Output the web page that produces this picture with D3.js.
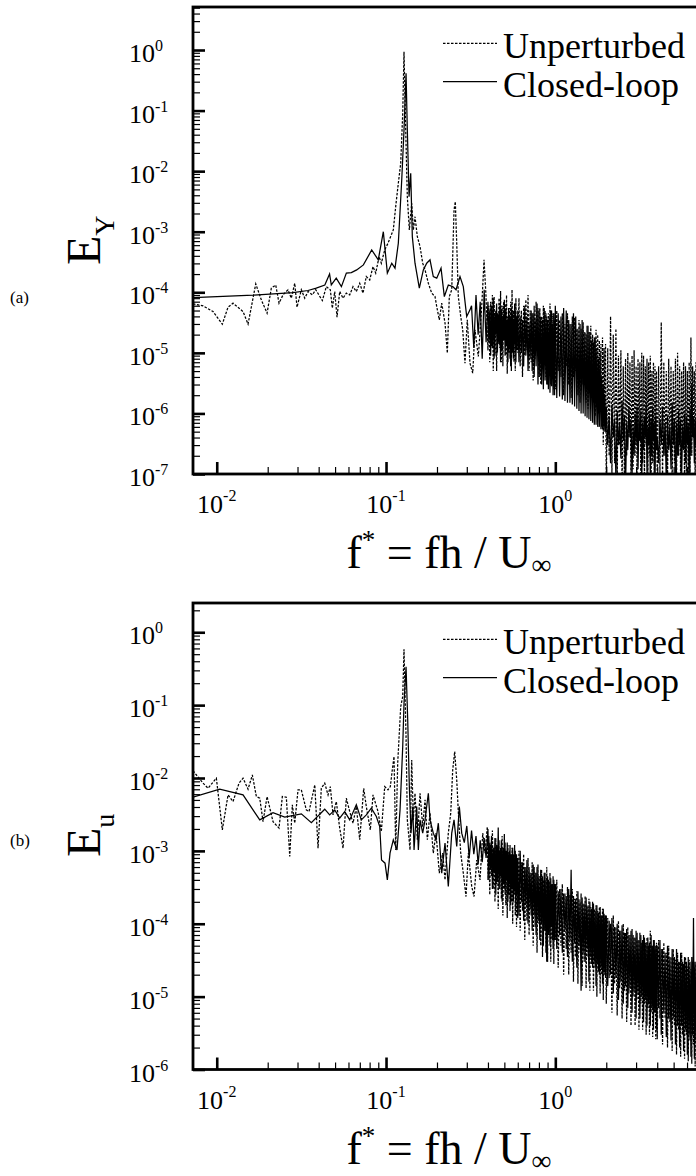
<!DOCTYPE html>
<html>
<head>
<meta charset="utf-8">
<script src="https://cdn.jsdelivr.net/npm/d3@7/dist/d3.min.js"></script>
<style>
  body { margin: 0; background: #fff; }
  svg text { font-family: "Liberation Serif", "DejaVu Serif", serif; fill: #000; }
</style>
</head>
<body>
<svg id="chart" width="696" height="1176" font-family="Liberation Serif, DejaVu Serif, serif"></svg>
<script>
// ---- data ----
// low frequency part of each spectrum: [f*, E]
var eyUnperturbedLow = [[0.00724,6.44e-5],[0.0083,5.97e-5],[0.00951,4.81e-5],[0.01079,2.98e-5],[0.01166,5.68e-5],[0.01248,6.61e-5],[0.0143,4.81e-5],[0.01531,2.98e-5],[0.017,1.38e-4],[0.01834,7.5e-5],[0.01983,4.52e-5],[0.02101,1.17e-4],[0.02231,1.32e-4],[0.02333,6.61e-5],[0.02463,9.06e-5],[0.02636,1.10e-4],[0.02757,8.0e-5],[0.02889,1.41e-4],[0.0298,5.68e-5],[0.0316,1.10e-4],[0.0331,8.0e-5],[0.03462,1.03e-4],[0.0367,9.06e-5],[0.03844,1.10e-4],[0.04205,7.3e-5],[0.0444,1.24e-4],[0.04688,1.10e-4],[0.04817,5.47e-5],[0.04977,1.03e-4],[0.05135,3.88e-5],[0.05326,1.03e-4],[0.05572,8.0e-5],[0.05827,9.67e-5],[0.06103,9.06e-5],[0.06383,1.24e-4],[0.06676,1.03e-4],[0.06992,1.41e-4],[0.07311,9.67e-5],[0.07647,1.82e-4],[0.0801,1.6e-4],[0.08377,2.66e-4],[0.08692,2.07e-4],[0.09094,3.88e-4],[0.0938,3.02e-4],[0.09824,5.0e-4],[0.1027,6.46e-4],[0.1104,1.07e-3],[0.1146,2.95e-3],[0.1182,6.31e-3],[0.1221,1.35e-2],[0.1255,9.02e-2],[0.1277,0.937],[0.13,9.02e-2],[0.1336,3.79e-3],[0.1373,1.07e-3],[0.1418,2.95e-3],[0.145,1.07e-3],[0.1483,1.77e-3],[0.1531,8.3e-4],[0.1588,5.68e-4],[0.1647,3.02e-4],[0.17,2.34e-4],[0.1778,1.41e-4],[0.1862,9.67e-5],[0.1947,8.5e-5],[0.1993,5.81e-5],[0.2064,3.51e-5],[0.2133,6.61e-5],[0.2231,3.09e-5],[0.2302,9.9e-6],[0.2365,8.5e-5],[0.2444,1.1e-4],[0.2522,2.29e-3],[0.2566,3.14e-3],[0.2616,6.46e-4],[0.2673,8.5e-5],[0.2762,3.97e-5],[0.2838,2.4e-5],[0.2927,6.76e-6],[0.302,3.51e-5],[0.3133,6.76e-6],[0.3251,4.62e-6],[0.3355,2.4e-5],[0.3509,8.7e-6],[0.3675,5.81e-5],[0.3793,3.43e-4],[0.3897,8.5e-5]];

var eyClosedLow = [[0.00724,8.2e-5],[0.0164,9.0e-5],[0.0282,9.9e-5],[0.0346,1.07e-4],[0.0387,1.17e-4],[0.0435,1.32e-4],[0.0464,2.01e-4],[0.0475,1.32e-4],[0.0508,1.71e-4],[0.0545,1.24e-4],[0.0583,2.07e-4],[0.0624,2.11e-4],[0.0671,2.34e-4],[0.0735,2.83e-4],[0.0823,5.0e-4],[0.09,3.43e-4],[0.0964,1.0e-3],[0.1018,2.07e-4],[0.1081,3.02e-4],[0.113,2.5e-4],[0.1182,6.46e-4],[0.1238,7.16e-3],[0.1277,4.79e-2],[0.1313,0.412],[0.1336,4.79e-2],[0.1368,3.79e-3],[0.1399,9.23e-3],[0.143,8.3e-4],[0.1483,3.02e-4],[0.1573,1.17e-4],[0.1661,2.34e-4],[0.1739,3.02e-4],[0.1819,3.43e-4],[0.1902,1.82e-4],[0.1993,1.71e-4],[0.2113,2.5e-4],[0.221,8.5e-5],[0.2333,1.32e-4],[0.2477,1.24e-4],[0.2592,1.1e-4],[0.2735,1.82e-4],[0.2861,1.24e-4],[0.2996,3.97e-5],[0.3133,5.13e-5],[0.32,6e-5],[0.33,1.2e-5],[0.34,9e-5],[0.35,2e-5],[0.36,7e-5],[0.37,8e-6],[0.38,1.1e-4],[0.39,1.5e-5]];

var euUnperturbedLow = [[0.00724,1.26e-2],[0.0083,8.5e-3],[0.00888,7.24e-3],[0.00995,9.94e-3],[0.01079,1.94e-3],[0.01166,5.86e-3],[0.01248,4.75e-3],[0.01354,8.5e-3],[0.0143,9.94e-3],[0.01531,7.02e-3],[0.01623,1.1e-2],[0.01714,5.56e-3],[0.01795,5.28e-3],[0.01877,2.52e-3],[0.01983,5.56e-3],[0.0215,2.52e-3],[0.02333,2.05e-3],[0.0244,5.56e-3],[0.02577,5.45e-3],[0.02699,8.4e-4],[0.02796,4.28e-3],[0.02889,2.4e-3],[0.03021,6.87e-3],[0.0316,6.87e-3],[0.03381,3.65e-3],[0.03509,3.46e-3],[0.03794,8.04e-3],[0.03966,1.09e-3],[0.04147,7.24e-3],[0.04344,8.5e-3],[0.04544,5.86e-3],[0.04688,7.62e-3],[0.04864,3.12e-3],[0.05085,4.75e-3],[0.05326,2.05e-3],[0.05572,1.09e-3],[0.05827,5.28e-3],[0.06103,3.46e-3],[0.06383,2.4e-3],[0.06676,4.05e-3],[0.06992,1.42e-3],[0.07382,7.24e-3],[0.07647,4.05e-3],[0.08077,1.94e-3],[0.08377,5.86e-3],[0.08967,3.46e-3],[0.0938,1.84e-3],[0.09824,7.62e-3],[0.1027,6.87e-3],[0.106,7.62e-3],[0.1089,1.29e-2],[0.1115,1.97e-2],[0.1141,1.03e-3],[0.1172,1.6e-2],[0.1221,9.5e-2],[0.1255,0.131],[0.1277,0.585],[0.1313,3.7e-2],[0.1336,2.66e-3],[0.1386,1.03e-3],[0.1418,1.77e-2],[0.145,2.66e-3],[0.1483,6.18e-3],[0.1531,1.42e-3],[0.1588,6.18e-3],[0.1647,2.15e-3],[0.17,5.01e-3],[0.1754,1.42e-3],[0.1819,3.29e-3],[0.1902,9.3e-4],[0.1974,1.75e-3],[0.2064,4.94e-4],[0.2162,9.3e-4],[0.2231,4.0e-4],[0.2333,1.75e-3],[0.2411,3.29e-3],[0.2477,1.29e-2],[0.2545,2.3e-2],[0.2616,9.4e-3],[0.2688,2.66e-3],[0.2762,9.3e-4],[0.2861,4.94e-4],[0.2968,2.36e-4],[0.3063,9.3e-4],[0.3208,3.24e-4],[0.3311,2.36e-4],[0.3434,7.5e-4],[0.3592,4.0e-4],[0.3726,1.75e-3],[0.3844,9.3e-4],[0.3965,2.15e-3]];

var euClosedLow = [[0.00724,5.45e-3],[0.01041,7.02e-3],[0.0143,5.86e-3],[0.01795,2.66e-3],[0.0215,3.35e-3],[0.02522,2.9e-3],[0.0316,3.22e-3],[0.03622,2.44e-3],[0.04344,3.73e-3],[0.04645,3.12e-3],[0.04977,3.65e-3],[0.05326,2.81e-3],[0.05702,3.46e-3],[0.06103,2.66e-3],[0.06676,4.28e-3],[0.07146,2.66e-3],[0.07647,3.12e-3],[0.08186,3.85e-3],[0.08765,2.96e-3],[0.0918,2.15e-3],[0.09406,7.5e-4],[0.09865,6.78e-4],[0.1018,4.0e-4],[0.1056,9.3e-4],[0.1104,1.42e-3],[0.1161,1.03e-3],[0.121,3.65e-3],[0.1255,2.7e-2],[0.1277,0.106],[0.1313,0.337],[0.1343,6.27e-2],[0.1373,7.62e-3],[0.1405,1.75e-3],[0.1438,4.05e-3],[0.1464,1.03e-3],[0.1518,4.05e-3],[0.1552,1.03e-3],[0.1588,2.66e-3],[0.1647,1.75e-3],[0.17,2.66e-3],[0.1778,6.18e-3],[0.1819,2.66e-3],[0.1902,1.75e-3],[0.1974,1.42e-3],[0.2037,2.4e-3],[0.2133,4.94e-4],[0.2231,1.28e-3],[0.2333,3.24e-4],[0.2444,1.75e-3],[0.2522,2.66e-3],[0.2616,1.15e-3],[0.271,4.05e-3],[0.28,1.75e-3],[0.29,1.3e-3],[0.30,2.2e-3],[0.31,8e-4],[0.32,1.9e-3],[0.33,9e-4],[0.34,1.6e-3],[0.35,6.5e-4],[0.36,1.4e-3],[0.37,7e-4],[0.38,1.5e-3],[0.39,8e-4]];

// high frequency part: shared sample frequencies, one value per frequency
var freqHigh = [0.400,0.405,0.410,0.415,0.420,0.425,0.430,0.435,0.440,0.445,0.450,0.455,0.460,0.465,0.470,0.475,0.480,0.485,0.490,0.495,0.500,0.505,0.510,0.515,0.520,0.525,0.530,0.535,0.540,0.545,0.550,0.555,0.560,0.565,0.570,0.575,0.580,0.585,0.590,0.595,
  0.60,0.61,0.62,0.63,0.64,0.65,0.66,0.67,0.68,0.69,0.70,0.71,0.72,0.73,0.74,0.75,0.76,0.77,0.78,0.79,0.80,0.81,0.82,0.83,0.84,0.85,0.86,0.87,0.88,0.89,0.90,0.91,0.92,0.93,0.94,0.95,0.96,0.97,0.98,0.99,
  1.00,1.02,1.04,1.06,1.08,1.10,1.12,1.14,1.16,1.18,1.20,1.22,1.24,1.26,1.28,1.30,1.32,1.34,1.36,1.38,1.40,1.42,1.44,1.46,1.48,1.50,1.52,1.54,1.56,1.58,1.60,1.62,1.64,1.66,1.68,1.70,1.72,1.74,1.76,1.78,1.80,1.82,1.84,1.86,1.88,1.90,1.92,1.94,1.96,1.98,
  2.00,2.04,2.08,2.12,2.16,2.20,2.24,2.28,2.32,2.36,2.40,2.44,2.48,2.52,2.56,2.60,2.64,2.68,2.72,2.76,2.80,2.84,2.88,2.92,2.96,3.00,3.04,3.08,3.12,3.16,3.20,3.24,3.28,3.32,3.36,3.40,3.44,3.48,3.52,3.56,3.60,3.64,3.68,3.72,3.76,3.80,3.84,3.88,3.92,3.96,
  4.000,4.075,4.150,4.225,4.300,4.375,4.450,4.525,4.600,4.675,4.750,4.825,4.900,4.975,5.050,5.125,5.200,5.275,5.350,5.425,5.500,5.575,5.650,5.725,5.800,5.875,5.950,6.025,6.100,6.175,6.250,6.325,6.400,6.475,6.550,6.625,6.700,6.775,6.850,6.925];

var eyUnperturbedHigh = [1.1e-5,6e-5,7e-6,7e-5,1.3e-5,9e-5,5e-6,8.5e-5,9e-6,5e-5,5e-6,4.5e-5,1.5e-5,8e-5,1.2e-5,1.05e-4,7e-6,6e-5,6e-6,7e-5,
  2e-5,6.5e-5,9e-6,9e-5,4.5e-6,4e-5,1e-5,5.5e-5,8e-6,7e-5,5e-6,1.1e-4,1.5e-5,5e-5,7e-6,6.5e-5,5e-6,8e-5,1.1e-5,4e-5,
  1e-5,8e-5,6e-6,5e-5,4e-6,6e-5,9e-6,7.5e-5,1.1e-5,9e-5,5e-6,5e-5,7e-6,4.5e-5,3.5e-6,6e-5,8e-6,7e-5,1.4e-5,5.5e-5,
  4e-6,5.5e-5,3e-6,4e-5,7e-6,6e-5,8e-6,5e-5,4e-6,4e-5,3e-6,4.5e-5,6e-6,6.5e-5,3e-6,5e-5,1e-5,4.5e-5,2.5e-6,3.5e-5,
  2.5e-6,5e-5,5e-6,3.5e-5,4e-6,4.5e-5,2e-6,3e-5,6e-6,4.5e-5,3e-6,3e-5,1.8e-6,4e-5,4e-6,3.8e-5,5e-6,2.5e-5,2e-6,3.5e-5,
  1.5e-6,2.5e-5,3e-6,3.2e-5,3.5e-6,2.2e-5,1.5e-6,2.8e-5,1.2e-6,2.2e-5,3e-6,2.8e-5,4e-6,2e-5,1.5e-6,1.8e-5,9e-7,2.4e-5,2e-6,2e-5,
  1e-6,1.6e-5,2.5e-6,1.4e-5,6e-7,1.8e-5,3e-7,1.2e-5,1e-6,1.4e-5,
  6e-8,1.2e-5,2e-7,4e-5,1e-7,2e-5,1.5e-7,2.5e-5,7e-8,9e-6,3e-7,1.1e-5,6e-8,6e-6,8e-8,8e-6,2e-7,1e-5,4e-7,7e-6,
  6e-8,9e-6,1.2e-7,1.1e-5,2e-7,6e-6,9e-8,8e-6,5e-7,7e-6,6e-8,1e-5,1.5e-7,9e-6,7e-8,6e-6,3e-7,8e-6,6e-8,7e-6,
  2e-7,9e-6,7e-8,5e-6,1.5e-7,7e-6,6e-8,6e-6,4e-7,5e-6,
  6e-8,6e-6,1e-7,3.2e-5,8e-8,7e-6,2e-7,5e-6,6e-8,8e-6,3e-7,6e-6,7e-8,5e-6,1.5e-7,8e-6,6e-8,1e-5,2e-7,6e-6,
  7e-8,5e-6,3e-7,7e-6,6e-8,6e-6,1e-7,5e-6,8e-8,7e-6,6e-8,1.8e-5,2e-7,6e-6,4e-7,5e-6,6e-8,7e-6,1.5e-7,5e-6];

var eyClosedHigh = [7e-5,1.5e-5,5e-5,9e-6,6e-5,1.2e-5,8e-5,8e-6,4.5e-5,2e-5,6.5e-5,1e-5,4.5e-5,1.4e-5,6e-5,7e-6,5e-5,1.1e-5,4e-5,1.6e-5,
  7.5e-5,9e-6,5e-5,1.3e-5,3.5e-5,7e-6,5.5e-5,1.2e-5,4e-5,6e-6,5.5e-5,1e-5,4.5e-5,8e-6,3.5e-5,1.4e-5,5e-5,7e-6,4e-5,1.2e-5,
  5e-5,7e-6,4e-5,1e-5,3.5e-5,6e-6,6e-5,9e-6,4e-5,5e-6,3e-5,8e-6,5e-5,5e-6,4.5e-5,4e-6,3.5e-5,6e-6,6.5e-5,3e-6,
  5e-5,4e-6,4e-5,3e-6,3.5e-5,2.5e-6,5.5e-5,3.5e-6,4.5e-5,3e-6,3.5e-5,2.5e-6,4e-5,2.2e-6,5e-5,2.8e-6,3e-5,2e-6,4.5e-5,2e-6,
  6e-5,1.8e-6,4.5e-5,1.9e-6,4e-5,1.7e-6,5.5e-5,1.6e-6,5e-5,1.5e-6,3.5e-5,1.5e-6,3e-5,1.4e-6,4.5e-5,1.3e-6,4e-5,1.2e-6,2.5e-5,1.1e-6,
  3e-5,1e-6,3.5e-5,1e-6,2.2e-5,9e-7,2e-5,8.5e-7,2.8e-5,8e-7,2.2e-5,7.5e-7,1.6e-5,7e-7,1.5e-5,6.5e-7,1.8e-5,6.5e-7,1.2e-5,6e-7,
  8e-6,6e-7,1e-5,5.5e-7,4e-6,5.5e-7,3e-6,5e-7,2e-6,5e-7,
  1.3e-6,3e-7,9e-7,1.5e-7,1.4e-6,4e-7,8e-7,8e-8,1.1e-6,3e-7,7e-7,1.8e-7,1.6e-6,3.5e-7,9e-7,6e-8,7e-7,2.5e-7,1.2e-6,4e-7,
  8e-7,9e-8,6e-7,2e-7,1e-6,3e-7,1.3e-6,1.2e-7,8e-7,3.5e-7,1.1e-6,7e-8,7e-7,2.5e-7,9e-7,4e-7,1.4e-6,1e-7,6e-7,3e-7,
  1e-6,8e-8,8e-7,2e-7,1.2e-6,3.5e-7,7e-7,6e-8,9e-7,2.5e-7,
  4e-7,1.5e-7,8e-7,3e-7,1.3e-6,2e-7,7e-7,7e-8,9e-7,2.5e-7,6e-7,1.2e-7,1.5e-6,3e-7,8e-7,6e-8,7e-7,2e-7,1.1e-6,3e-7,
  8e-7,9e-8,6e-7,2.5e-7,1e-6,1.5e-7,9e-7,3e-7,7e-7,7e-8,1.2e-6,2e-7,3e-6,4e-7,9e-7,1.5e-7,8e-7,3e-7,1e-6,2e-7];

var euUnperturbedHigh = [4e-4,1.6e-3,2.5e-4,1.2e-3,4.5e-4,1.9e-3,3e-4,1.1e-3,2e-4,1.5e-3,3.5e-4,9e-4,1.6e-4,1.4e-3,3e-4,1.1e-3,2.2e-4,1.6e-3,1.3e-4,1e-3,
  3e-4,1.3e-3,1.8e-4,8e-4,1.2e-4,1.2e-3,2.5e-4,1e-3,1.5e-4,7e-4,2e-4,1.1e-3,1e-4,9e-4,2.5e-4,1.2e-3,1.3e-4,8e-4,9e-5,7e-4,
  1.2e-4,1e-3,8e-5,7e-4,1.5e-4,9e-4,6e-5,6e-4,1.1e-4,8e-4,7e-5,5e-4,1.3e-4,7e-4,5e-5,6e-4,9e-5,5e-4,4e-5,6.5e-4,
  1e-4,4.5e-4,5e-5,5.5e-4,3.5e-5,4e-4,8e-5,5e-4,4e-5,6e-4,3e-5,4e-4,7e-5,5e-4,3e-5,3.5e-4,6e-5,4.5e-4,2.8e-5,3.5e-4,
  6e-5,4e-4,2.5e-5,3e-4,5e-5,3.5e-4,2e-5,2.6e-4,4.5e-5,3.2e-4,2e-5,2.5e-4,4e-5,3e-4,1.6e-5,2.2e-4,3.5e-5,2.8e-4,1.5e-5,2.2e-4,
  4e-5,2.6e-4,1.4e-5,1.9e-4,3e-5,2.4e-4,1.3e-5,1.8e-4,3.5e-5,2.2e-4,1.2e-5,1.7e-4,2.8e-5,2e-4,1.2e-5,1.6e-4,2.5e-5,1.8e-4,1e-5,1.5e-4,
  2.2e-5,1.7e-4,1.1e-5,1.3e-4,2e-5,1.6e-4,9e-6,1.4e-4,2e-5,1.3e-4,
  8e-6,1.2e-4,1.8e-5,1e-4,6e-6,1.3e-4,1.5e-5,9e-5,5.5e-6,1.1e-4,1.3e-5,8e-5,5e-6,1e-4,1.2e-5,7.5e-5,4.5e-6,9e-5,1.1e-5,7e-5,
  4e-6,8.5e-5,1e-5,6.5e-5,4e-6,8e-5,9e-6,6e-5,3.5e-6,7.5e-5,8e-6,5.5e-5,3.5e-6,7e-5,8e-6,5.5e-5,3e-6,6.5e-5,7e-6,5e-5,
  3e-6,8e-5,6e-6,5e-5,2.8e-6,6e-5,6e-6,4.5e-5,2.6e-6,5.5e-5,
  2.6e-6,6e-5,5e-6,4.5e-5,2.2e-6,5.5e-5,5e-6,4e-5,2e-6,5e-5,4.5e-6,3.5e-5,1.8e-6,4.5e-5,4e-6,3.2e-5,1.6e-6,4e-5,3.5e-6,3e-5,
  1.5e-6,4e-5,3e-6,2.8e-5,1.4e-6,3.5e-5,3e-6,2.6e-5,1.3e-6,3.2e-5,2.5e-6,2.4e-5,1.2e-6,3e-5,2.2e-6,2.5e-5,1.1e-6,2.8e-5,2e-6,2.2e-5];

var euClosedHigh = [2e-3,4e-4,1.3e-3,5.5e-4,1.6e-3,3e-4,1.1e-3,5e-4,1.5e-3,2.5e-4,1.2e-3,4e-4,2.1e-3,3e-4,1e-3,4.5e-4,1.4e-3,2e-4,1.1e-3,3.5e-4,
  1.7e-3,2.5e-4,1e-3,4e-4,1.3e-3,2e-4,9e-4,3.5e-4,1.2e-3,1.8e-4,9e-4,3e-4,1.1e-3,2e-4,8e-4,2.8e-4,1e-3,1.6e-4,9e-4,2.5e-4,
  8e-4,1.3e-4,1e-3,2e-4,7e-4,1.1e-4,6e-4,1.8e-4,7.5e-4,1e-4,6e-4,1.6e-4,5e-4,8e-5,6.5e-4,1.3e-4,5e-4,7e-5,6e-4,1.1e-4,
  4.5e-4,6e-5,5.5e-4,1e-4,4.5e-4,5e-5,5e-4,8e-5,4e-4,3e-5,4.5e-4,7e-5,3.8e-4,5e-5,4.2e-4,9e-5,3.5e-4,4.5e-5,4e-4,6e-5,
  3.5e-4,4.5e-5,2.8e-4,7e-5,3e-4,4e-5,2.6e-4,8e-5,2.4e-4,3.5e-5,3e-4,6e-5,5.5e-4,3e-5,2.4e-4,5.5e-5,2.2e-4,2.5e-5,2.8e-4,5e-5,
  2e-4,1.2e-5,2.3e-4,4e-5,1.9e-4,3e-5,2.3e-4,4.5e-5,1.7e-4,1.6e-5,2e-4,3.5e-5,1.6e-4,2.5e-5,1.9e-4,3e-5,1.5e-4,1.4e-5,1.8e-4,2.8e-5,
  1.4e-4,2e-5,1.7e-4,2.5e-5,1.3e-4,1.5e-5,1.6e-4,2.2e-5,1.3e-4,1.8e-5,
  1.3e-4,1.4e-5,1.1e-4,2e-5,1.2e-4,1.1e-5,9e-5,1.8e-5,1e-4,9e-6,8e-5,1.6e-5,9.5e-5,8e-6,7.5e-5,1.4e-5,8.5e-5,7e-6,7e-5,1.3e-5,
  8e-5,6e-6,7e-5,1.2e-5,6.5e-5,5e-6,7.5e-5,1.1e-5,6e-5,5e-6,7e-5,1e-5,6e-5,4.5e-6,6.5e-5,9e-6,5.5e-5,4e-6,6.5e-5,8e-6,
  5.5e-5,4e-6,7e-5,7e-6,5e-5,3.5e-6,6e-5,6e-6,5e-5,3.5e-6,
  5e-5,7e-6,6e-5,3e-6,4.5e-5,6e-6,4e-5,2.8e-6,5e-5,5e-6,3.5e-5,2.5e-6,4.5e-5,5e-6,3.5e-5,2.2e-6,4.5e-5,4e-6,3e-5,2e-6,
  4e-5,4e-6,3e-5,1.8e-6,3.5e-5,3.5e-6,3e-5,1.6e-6,3.5e-5,3e-6,3e-5,1.5e-6,3.5e-5,3e-6,1.2e-4,1.4e-6,3e-5,2.5e-6,2.5e-5,1.5e-6];

// tick labels (decade exponents)
var xTickExps = [-2, -1, 0];
var yTickExpsA = [0, -1, -2, -3, -4, -5, -6, -7];
var yTickExpsB = [0, -1, -2, -3, -4, -5, -6];
var legendNames = ["Unperturbed", "Closed-loop"];

// join low part and high part of a spectrum
function spectrum(low, high) {
  var pts = low.slice();
  for (var i = 0; i < freqHigh.length; i++) {
    pts.push([freqHigh[i], high[i]]);
  }
  return pts;
}

var svg = d3.select("#chart");

var panels = [
  { id: "a", tag: "(a)", tagY: 303, top: 7, bottom: 474, yMin: 1e-7, yMax: 5.13,
    exps: yTickExpsA, sub: "Y", eY: 265,
    unp: spectrum(eyUnperturbedLow, eyUnperturbedHigh),
    cl: spectrum(eyClosedLow, eyClosedHigh) },
  { id: "b", tag: "(b)", tagY: 846, top: 603, bottom: 1069.5, yMin: 1e-6, yMax: 2.52,
    exps: yTickExpsB, sub: "u", eY: 857,
    unp: spectrum(euUnperturbedLow, euUnperturbedHigh),
    cl: spectrum(euClosedLow, euClosedHigh) }
];

panels.forEach(drawPanel);

function drawPanel(p) {
  var left = 193, right = 724.6;
  var x = d3.scaleLog().domain([0.00724, 10]).range([left, right]);
  var y = d3.scaleLog().domain([p.yMin, p.yMax]).range([p.bottom, p.top]);

  var g = svg.append("g");

  // clip the curves to the plot box
  svg.append("clipPath").attr("id", "clip" + p.id)
    .append("rect")
    .attr("x", left).attr("y", p.top)
    .attr("width", right - left).attr("height", p.bottom - p.top);

  var line = d3.line()
    .x(function (d) { return x(d[0]); })
    .y(function (d) { return y(d[1]); });

  var plot = g.append("g").attr("clip-path", "url(#clip" + p.id + ")");

  plot.append("path")
    .datum(p.unp)
    .attr("d", line)
    .attr("fill", "none")
    .attr("stroke", "#000")
    .attr("stroke-width", 1.25)
    .attr("stroke-dasharray", "2.5,1.5");

  plot.append("path")
    .datum(p.cl)
    .attr("d", line)
    .attr("fill", "none")
    .attr("stroke", "#000")
    .attr("stroke-width", 1.25);

  // ticks
  var yMajor = p.exps.map(function (e) { return Math.pow(10, e); });
  var yMinor = [];
  for (var e = p.exps[p.exps.length - 1]; e <= 0; e++) {
    for (var m = 2; m <= 9; m++) {
      var v = m * Math.pow(10, e);
      if (v < p.yMax) yMinor.push(v);
    }
  }
  var xMajor = xTickExps.map(function (e) { return Math.pow(10, e); });
  var xMinor = [];
  xTickExps.forEach(function (e) {
    for (var m = 2; m <= 9; m++) xMinor.push(m * Math.pow(10, e));
  });

  g.append("g").attr("transform", "translate(" + left + ",0)")
    .call(d3.axisLeft(y).tickValues(yMinor).tickSize(-7).tickFormat(""))
    .call(function (a) { a.select(".domain").remove(); })
    .selectAll("line").attr("stroke-width", 1.2);
  g.append("g").attr("transform", "translate(" + left + ",0)")
    .call(d3.axisLeft(y).tickValues(yMajor).tickSize(-12).tickFormat(""))
    .call(function (a) { a.select(".domain").remove(); })
    .selectAll("line").attr("stroke-width", 2.6);

  g.append("g").attr("transform", "translate(0," + p.bottom + ")")
    .call(d3.axisBottom(x).tickValues(xMinor).tickSize(-7).tickFormat(""))
    .call(function (a) { a.select(".domain").remove(); })
    .selectAll("line").attr("stroke-width", 1.2);
  g.append("g").attr("transform", "translate(0," + p.bottom + ")")
    .call(d3.axisBottom(x).tickValues(xMajor).tickSize(-12).tickFormat(""))
    .call(function (a) { a.select(".domain").remove(); })
    .selectAll("line").attr("stroke-width", 2.6);

  // frame
  g.append("rect")
    .attr("x", left).attr("y", p.top)
    .attr("width", 620).attr("height", p.bottom - p.top)
    .attr("fill", "none").attr("stroke", "#000").attr("stroke-width", 2.8);

  // y tick labels: 10 with superscript exponent
  p.exps.forEach(function (e) {
    var t = g.append("text")
      .attr("x", 129)
      .attr("y", y(Math.pow(10, e)) + 12)
      .attr("font-size", 26)
      .text("10");
    t.append("tspan").attr("font-size", 16).attr("dy", -11).text(e);
  });

  // x tick labels
  xTickExps.forEach(function (e) {
    var t = g.append("text")
      .attr("x", x(Math.pow(10, e)))
      .attr("y", p.bottom + 39)
      .attr("text-anchor", "middle")
      .attr("font-size", 26)
      .text("10");
    t.append("tspan").attr("font-size", 16).attr("dy", -12).text(e);
  });

  // x axis title
  var xt = g.append("text")
    .attr("x", 449)
    .attr("y", p.bottom + 94)
    .attr("text-anchor", "middle")
    .attr("font-size", 46)
    .text("f");
  xt.append("tspan").attr("font-size", 27).attr("dy", -19).text("*");
  xt.append("tspan").attr("dy", 19).text(" = fh / U");
  xt.append("tspan").attr("font-size", 28).attr("dy", 6).text("\u221E");

  // y axis title
  var yt = g.append("text")
    .attr("transform", "translate(100," + p.eY + ") rotate(-90)")
    .attr("font-size", 48)
    .text("E");
  yt.append("tspan").attr("font-size", 28).attr("dy", 14).text(p.sub);

  // panel tag
  g.append("text")
    .attr("x", 10)
    .attr("y", p.tagY)
    .attr("font-size", 17)
    .text(p.tag);

  // legend
  var legend = g.selectAll(".legend")
    .data(legendNames)
    .enter()
    .append("g")
    .attr("transform", function (d, i) {
      return "translate(0," + (p.top + 36.3 + i * 38.4) + ")";
    });

  legend.append("line")
    .attr("x1", 443).attr("x2", 497)
    .attr("y1", 0).attr("y2", 0)
    .attr("stroke", "#000")
    .attr("stroke-width", 1.3)
    .attr("stroke-dasharray", function (d, i) { return i == 0 ? "2.5,1.5" : null; });

  legend.append("text")
    .attr("x", 503)
    .attr("y", 15)
    .attr("font-size", 36)
    .text(function (d) { return d; });
}
</script>
</body>
</html>
